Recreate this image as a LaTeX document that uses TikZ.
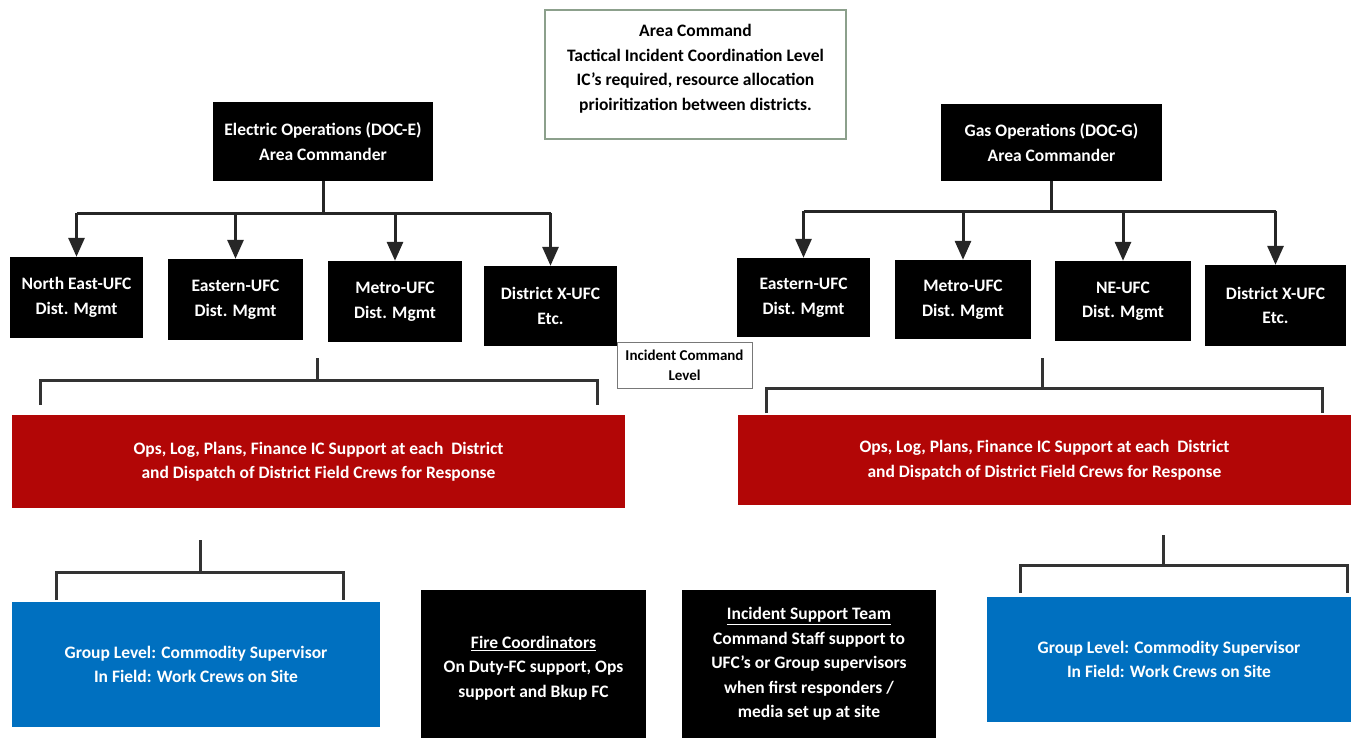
\documentclass[tikz,border=0pt]{standalone}
\usepackage{fontspec}
\setmainfont{Carlito}
\usetikzlibrary{arrows.meta}
\definecolor{opsred}{RGB}{178,6,6}
\definecolor{grpblue}{RGB}{0,112,192}
\definecolor{areaframe}{RGB}{140,160,140}
\definecolor{iclframe}{RGB}{120,120,120}
\tikzset{
  txt/.style={font=\fontsize{17.5}{24.5}\selectfont\bfseries, align=center, inner sep=0pt},
  blackbox/.style={txt, fill=black, text=white},
  redbox/.style={txt, fill=opsred, text=white},
  bluebox/.style={txt, fill=grpblue, text=white},
  wire/.style={line width=3pt, draw=black!85},
  feed/.style={wire, -{Triangle[width=16pt,length=19pt]}},
  bracket/.style={line width=3pt, draw=black!80, line join=miter},
}
\begin{document}
\begin{tikzpicture}[x=1pt,y=-1pt]
\useasboundingbox (0,0) rectangle (1351,738);

% top coordination box, its text set a little above the middle
\node[draw=areaframe, line width=1.3pt, minimum width=301pt, minimum height=129pt, inner sep=0pt]
  (area) at (695.5,74.5) {};
\node[txt] (areatext) at ([yshift=6pt]area.center)
  {Area Command\\Tactical Incident Coordination Level\\IC's required, resource allocation\\prioiritization between districts.};

% area commanders
\node[blackbox, minimum width=220pt, minimum height=79pt] (elec) at (323,141.5)
  {Electric Operations (DOC-E)\\Area Commander};
\node[blackbox, minimum width=221pt, minimum height=77pt] (gas) at (1051.5,142.5)
  {Gas Operations (DOC-G)\\Area Commander};

% electric district boxes
\node[blackbox, minimum width=133pt, minimum height=81pt] (neL) at (76.5,297.5) {North East-UFC\\Dist. Mgmt};
\node[blackbox, minimum width=135pt, minimum height=81pt] (eastL) at (235.5,299.5) {Eastern-UFC\\Dist. Mgmt};
\node[blackbox, minimum width=134pt, minimum height=81pt] (metroL) at (395,301.5) {Metro-UFC\\Dist. Mgmt};
\node[blackbox, minimum width=133pt, minimum height=80pt] (dxL) at (550.5,306) {District X-UFC\\Etc.};

% gas district boxes
\node[blackbox, minimum width=133pt, minimum height=79pt] (eastR) at (803.5,297.5) {Eastern-UFC\\Dist. Mgmt};
\node[blackbox, minimum width=136pt, minimum height=79pt] (metroR) at (963,299.5) {Metro-UFC\\Dist. Mgmt};
\node[blackbox, minimum width=136pt, minimum height=80pt] (neR) at (1123,301) {NE-UFC\\Dist. Mgmt};
\node[blackbox, minimum width=141pt, minimum height=81pt] (dxR) at (1275.5,305.5) {District X-UFC\\Etc.};

% incident command level label
\node[txt, font=\fontsize{15}{20}\selectfont\bfseries, draw=iclframe, line width=0.8pt,
  fill=white, minimum width=135pt, minimum height=46pt] (icl) at (684.5,365)
  {Incident Command\\Level};

% district support boxes
\node[redbox, minimum width=613pt, minimum height=93pt] (redL) at (318.5,461.5)
  {Ops, Log, Plans, Finance IC Support at each \ District\\and Dispatch of District Field Crews for Response};
\node[redbox, minimum width=613pt, minimum height=90pt] (redR) at (1044.5,460)
  {Ops, Log, Plans, Finance IC Support at each \ District\\and Dispatch of District Field Crews for Response};

% group level boxes
\node[bluebox, minimum width=368pt, minimum height=125pt] (blueL) at (196,664.5)
  {Group Level: Commodity Supervisor\\In Field: Work Crews on Site};
\node[bluebox, minimum width=364pt, minimum height=125pt] (blueR) at (1169,659.5)
  {Group Level: Commodity Supervisor\\In Field: Work Crews on Site};

% support teams (they run off the bottom edge)
\node[blackbox, minimum width=225pt, minimum height=156pt] (fire) at (533.5,668)
  {\underline{Fire Coordinators}\\On Duty-FC support, Ops\\support and Bkup FC};
\node[blackbox, minimum width=254pt, minimum height=148pt] (ist) at (809,664)
  {\underline{Incident Support Team}\\Command Staff support to\\UFC's or Group supervisors\\when first responders /\\media set up at site};

% electric feed lines
\coordinate (ebus) at (0,213);
\draw[wire] (elec.south) -- (elec.south |- ebus);
\draw[wire] (neL.north |- ebus) -- (dxL.north |- ebus);
\foreach \n in {neL,eastL,metroL,dxL}
  \draw[feed] (\n.north |- ebus) -- (\n.north);

% gas feed lines
\coordinate (gbus) at (0,211);
\draw[wire] (gas.south) -- (gas.south |- gbus);
\draw[wire] (eastR.north |- gbus) -- (dxR.north |- gbus);
\foreach \n in {eastR,metroR,neR,dxR}
  \draw[feed] (\n.north |- gbus) -- (\n.north);

% brackets above the support boxes
\coordinate (bl1) at (317,358);
\coordinate (bl1a) at (40,380);
\coordinate (bl1b) at (597,380);
\draw[bracket] (bl1) -- (bl1 |- bl1a);
\draw[bracket] (bl1a |- 0,405) -- (bl1a) -- (bl1b) -- (bl1b |- 0,405);

\coordinate (br1) at (1042,358);
\coordinate (br1a) at (766,388);
\coordinate (br1b) at (1322,388);
\draw[bracket] (br1) -- (br1 |- br1a);
\draw[bracket] (br1a |- 0,413) -- (br1a) -- (br1b) -- (br1b |- 0,413);

% brackets above the group boxes
\coordinate (bl2) at (200,540);
\coordinate (bl2a) at (56,572);
\coordinate (bl2b) at (343,572);
\draw[bracket] (bl2) -- (bl2 |- bl2a);
\draw[bracket] (bl2a |- 0,600) -- (bl2a) -- (bl2b) -- (bl2b |- 0,600);

\coordinate (br2) at (1163,535);
\coordinate (br2a) at (1020,565);
\coordinate (br2b) at (1347,565);
\draw[bracket] (br2) -- (br2 |- br2a);
\draw[bracket] (br2a |- 0,593) -- (br2a) -- (br2b) -- (br2b |- 0,593);
\end{tikzpicture}
\end{document}
